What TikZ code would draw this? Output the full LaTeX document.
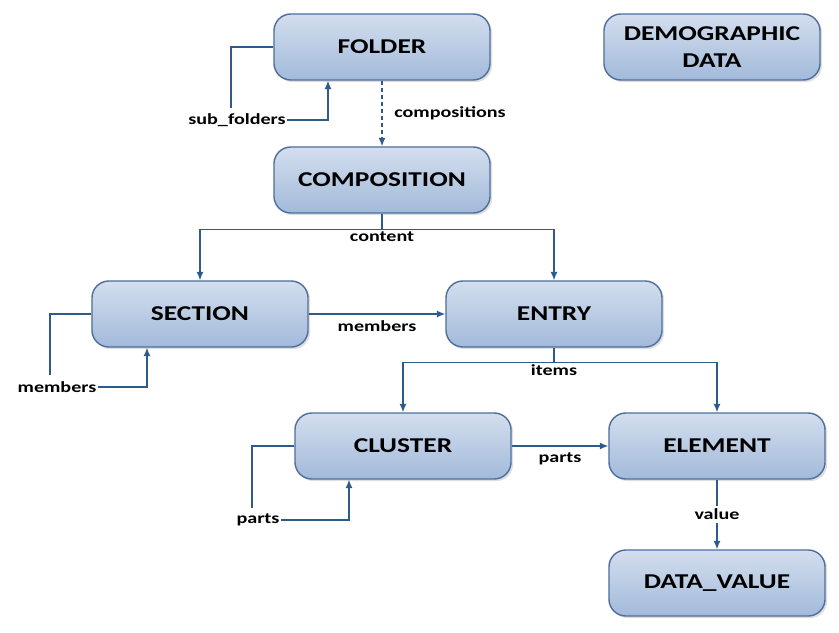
\documentclass[tikz,border=0pt]{standalone}
\usepackage{fontspec}
\setmainfont{Carlito}[FakeStretch=1.3]
\usetikzlibrary{shapes,positioning,arrows.meta,calc,shadows}

\definecolor{boxtop}{HTML}{D3DEEE}
\definecolor{boxbottom}{HTML}{A2BADA}
\definecolor{boxline}{HTML}{4F6E9D}
\definecolor{linkblue}{HTML}{2F5B8C}

\tikzset{
  entity/.style={draw=boxline, line width=1pt, rounded corners=12pt,
    top color=boxtop, bottom color=boxbottom,
    minimum width=5.4cm, minimum height=1.65cm, align=center,
    font=\fontsize{15}{19}\selectfont\bfseries,
    drop shadow={opacity=0.25, shadow xshift=1.5pt, shadow yshift=-1.5pt}},
  lbl/.style={font=\fontsize{11}{13}\selectfont\bfseries, inner sep=1pt},
  link/.style={draw=linkblue, line width=0.9pt},
  arr/.style={link, -{Latex[length=6pt,width=5pt]}}
}

\begin{document}
\begin{tikzpicture}[x=0.025cm, y=-0.025cm]
  \useasboundingbox (0,0) rectangle (839,632);
  % --------
  % Boxes
  % --------
  \node[entity] at (382, 47) (folder) {FOLDER};
  \node[entity] at (712, 47) (demographic) {DEMOGRAPHIC\\DATA};
  \node[entity] at (382, 180) (composition) {COMPOSITION};
  \node[entity] at (200, 314) (section) {SECTION};
  \node[entity] at (554, 314) (entry) {ENTRY};
  \node[entity] at (403, 446) (cluster) {CLUSTER};
  \node[entity] at (717, 446) (element) {ELEMENT};
  \node[entity] at (717, 583) (datavalue) {DATA\_VALUE};

  % loop labels
  \node[lbl] at (237, 120) (subfoldersLbl) {sub\_folders};
  \node[lbl] at (450, 113) (compositionsLbl) {compositions};
  \node[lbl] at (57, 387) (sectionMembersLbl) {members};
  \node[lbl] at (258, 520) (clusterPartsLbl) {parts};

  % self loops
  \coordinate (folderLoop) at (231, 108);
  \draw[link] (folder.west) -| (folderLoop);
  \draw[arr] (subfoldersLbl.east) -| ($(folder.south)+(-54,0)$);

  \coordinate (sectionLoop) at (50, 375);
  \draw[link] (section.west) -| (sectionLoop);
  \draw[arr] (sectionMembersLbl.east) -| ($(section.south)+(-53,0)$);

  \coordinate (clusterLoop) at (252, 508);
  \draw[link] (cluster.west) -| (clusterLoop);
  \draw[arr] (clusterPartsLbl.east) -| ($(cluster.south)+(-54,0)$);

  % Draw line
  \draw[arr, dash pattern=on 3pt off 2pt] (folder) -- (composition);

  \coordinate (contentSplit) at ($(composition.south)+(0,16)$);
  \draw[link] (composition.south) -- (contentSplit);
  \draw[arr] (contentSplit) -| (section.north);
  \draw[arr] (contentSplit) -| (entry.north);
  \node[lbl, below] at (contentSplit) (contentLbl) {content};

  \draw[arr] (section) -- node[lbl, below, inner sep=4pt] (membersLbl) {members} (entry);

  \coordinate (itemsSplit) at ($(entry.south)+(0,15)$);
  \draw[link] (entry.south) -- (itemsSplit);
  \draw[arr] (itemsSplit) -| (cluster.north);
  \draw[arr] (itemsSplit) -| (element.north);
  \node[lbl, below] at (itemsSplit) (itemsLbl) {items};

  \draw[arr] (cluster) -- node[lbl, below, inner sep=4pt] (partsLbl) {parts} (element);
  \draw[arr] (element) -- node[lbl, fill=white, inner sep=2pt] (valueLbl) {value} (datavalue);
\end{tikzpicture}
\end{document}
